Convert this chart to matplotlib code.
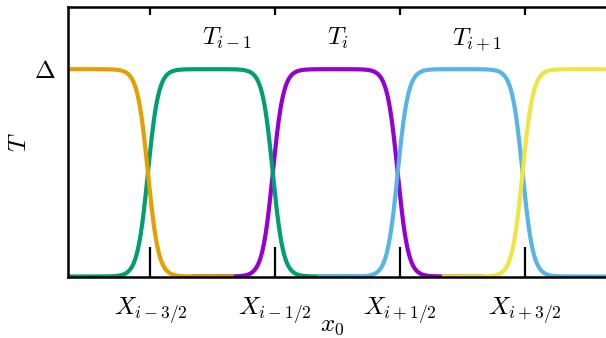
import numpy as np
import matplotlib
matplotlib.use("Agg")
import matplotlib.pyplot as plt

plt.rcParams['mathtext.fontset'] = 'cm'
plt.rcParams['font.family'] = ['DejaVu Serif']

# ---- data ----
interfaces = [-1.5, -0.5, 0.5, 1.5]
interface_labels = [r'$X_{i-3/2}$', r'$X_{i-1/2}$', r'$X_{i+1/2}$', r'$X_{i+3/2}$']
cell_centers = [-2, -1, 0, 1, 2]
cell_labels = ['', r'$T_{i-1}$', r'$T_i$', r'$T_{i+1}$', '']
cell_colors = ['#E69F00', '#009E73', '#9400D3', '#56B4E9', '#F0E442']
cell_zorders = [2.15, 2.05, 2.0, 2.1, 2.2]
delta = 1.0
front_width = 0.085
front_shift = -0.02
domain_ext = 2.0 / 3.0

fig = plt.figure(figsize=(6.06, 3.38), dpi=100)
ax = fig.add_axes([68/606, (338-276.5)/338, 539.5/606, 269.5/338])

for c, lab, col, zo in zip(cell_centers, cell_labels, cell_colors, cell_zorders):
    a = c - 0.5 + front_shift
    b = c + 0.5 + front_shift
    x = np.linspace(c - 0.5 - domain_ext, c + 0.5 + domain_ext, 800)
    T = delta * 0.5 * (1 + np.tanh((x - a) / front_width)) * 0.5 * (1 + np.tanh((b - x) / front_width))
    ax.plot(x, T, color=col, lw=3.0, zorder=zo, solid_capstyle='butt')
    if lab:
        ax.text(c - 0.085, 1.117, lab, fontsize=18, ha='left', va='baseline')

ax.set_xlim(-2.16, 2.16)
ax.set_ylim(0, 1.30)

ax.set_xticks(interfaces, interface_labels)
ax.set_xticks(interfaces, minor=True)
ax.xaxis.remove_overlapping_locs = False
ax.tick_params(axis='x', which='major', direction='in', length=21.6, width=1.6,
               bottom=True, top=False, pad=14, labelsize=18)
ax.tick_params(axis='x', which='minor', direction='in', length=5.5, width=1.6,
               bottom=False, top=True)
ax.set_yticks([delta], [r'$\Delta$'])
ax.tick_params(axis='y', length=0, pad=9, labelsize=18)

for s in ['left', 'top', 'bottom']:
    ax.spines[s].set_linewidth(1.8)
ax.spines['right'].set_visible(False)

ax.set_xlabel(r'$x_0$', fontsize=18)
ax.xaxis.set_label_coords(0.49, -0.14)
ax.set_ylabel(r'$T$', fontsize=18)
ax.yaxis.set_label_coords(-0.068, 0.5)

fig.savefig('out.png', dpi=100)
